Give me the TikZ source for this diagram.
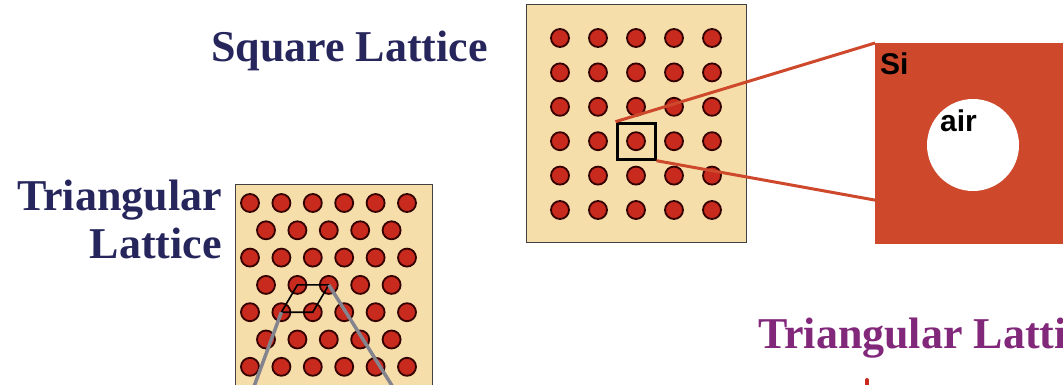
\documentclass[tikz,border=0pt]{standalone}
\usepackage{fontspec}
\setmainfont{Liberation Serif}
\newfontfamily\tagfont{Liberation Sans}
\usepackage{tikz}
\usetikzlibrary{positioning, calc}
\definecolor{latnavy}{RGB}{38,38,92}
\definecolor{latpurple}{RGB}{130,40,122}
\definecolor{latbg}{RGB}{246,222,170}
\definecolor{holered}{RGB}{200,42,30}
\definecolor{sired}{RGB}{206,72,44}
\definecolor{conegray}{RGB}{132,132,142}

\begin{document}
\begin{tikzpicture}[x=1pt, y=-1pt,
  title/.style={font=\fontsize{44}{46}\selectfont\bfseries, text=latnavy, inner sep=0pt},
  board/.style={rectangle, draw=black!75, fill=latbg, line width=1.3pt, anchor=north west, inner sep=0pt},
  hole/.style={circle, draw=black!80!red, fill=holered, line width=1.8pt, minimum size=18pt, inner sep=0pt},
  tag/.style={font=\tagfont\fontsize{30}{32}\selectfont\bfseries, inner sep=0pt, anchor=base west},
  zoomline/.style={draw=sired, line width=3pt},
  cone/.style={draw=conegray, line width=3.5pt}
]
\useasboundingbox (0,0) rectangle (1063,385);
\clip (0,0) rectangle (1063,385);
% square lattice
\node[title, anchor=base east] (sqtitle) at (488,62) {Square Lattice};
\node[board, minimum width=220pt, minimum height=238pt] (sqboard) at (526,4) {};
\foreach \j in {0,...,5}
  \foreach \i in {0,...,4}
    \node[hole] (s-\j-\i) at (560+38*\i, 38+34.4*\j) {};
\node[rectangle, draw=black, line width=3pt, minimum width=38pt, minimum height=36pt, inner sep=0pt] (cell) at (s-3-2) {};
% zoomed unit cell
\node[rectangle, fill=sired, anchor=north west, minimum width=240pt, minimum height=201pt] (si) at (875,43) {};
\node[circle, fill=white, minimum size=92pt, inner sep=0pt] (air) at (973,145) {};
\node[tag] (silabel) at (880,75) {Si};
\node[tag] (airlabel) at (940,132) {air};
\coordinate (silow) at ($(si.north west)!0.78!(si.south west)$);
\draw[zoomline] (cell.north west) -- (si.north west);
\draw[zoomline] (cell.south east) -- (silow);
% triangular lattice
\node[title, anchor=base east] (tritop) at (222,210) {Triangular};
\node[title, anchor=base east] (tribot) at (222,258) {Lattice};
\node[board, minimum width=197pt, minimum height=230pt] (triboard) at (235,184) {};
\foreach \j in {0,2,4,6}
  \foreach \i in {0,...,5}
    \node[hole] (t-\j-\i) at (250+31.4*\i, 203+27.3*\j) {};
\foreach \j in {1,3,5}
  \foreach \i in {0,...,4}
    \node[hole] (t-\j-\i) at (266+31.4*\i, 203+27.3*\j) {};
\draw[black, line width=1.6pt] (t-3-1.center) -- (t-3-2.center) -- (t-4-2.center) -- (t-4-1.center) -- cycle;
\coordinate (coneright) at (396,392);
\coordinate (coneleft) at (252,392);
\draw[cone] (t-3-2.center) -- (coneright);
\draw[cone] (t-4-1.center) -- (coneleft);
% lower right heading
\node[title, text=latpurple, anchor=base west] (trititle) at (758,348) {Triangular Lattice};
\draw[holered, line width=4pt, line cap=round] (867,380) -- (867,392);
\end{tikzpicture}
\end{document}
